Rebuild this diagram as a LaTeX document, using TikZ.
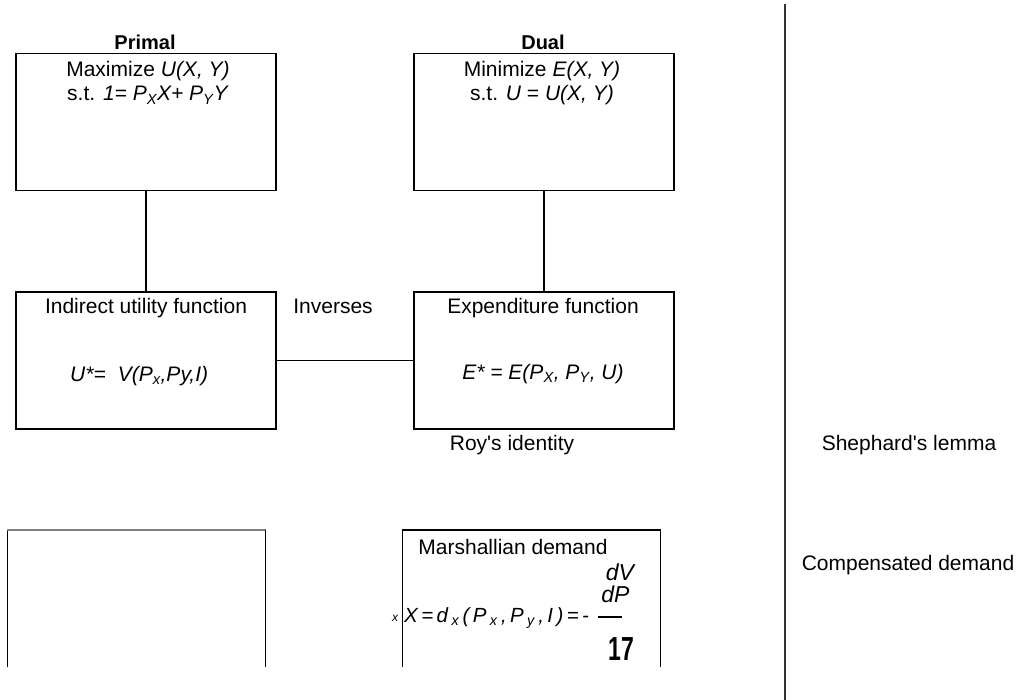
\documentclass[tikz,border=0pt]{standalone}
\usepackage{fontspec}
\setmainfont{Liberation Sans}[Ligatures=TeXOff]
\begin{document}
\begin{tikzpicture}[x=1pt,y=-1pt,
  box/.style={draw=black,line width=1.6pt,minimum width=260pt,minimum height=137pt,inner sep=0pt},
  openbox/.style={minimum width=258pt,minimum height=137pt,inner sep=0pt},
  txt/.style={inner sep=0pt,anchor=base,font=\fontsize{21}{24}\selectfont},
  txtw/.style={inner sep=0pt,anchor=base west,font=\fontsize{21}{24}\selectfont},
  head/.style={inner sep=0pt,anchor=base,font=\fontsize{20}{24}\selectfont\bfseries},
  conn/.style={draw=black,line width=1.6pt}]
\useasboundingbox (0,0) rectangle (1016,700);

% boxes
\node[box] (primal) at (146,122) {};
\node[box] (dual) at (544,122) {};
\node[box] (indirect) at (146,360.5) {};
\node[box] (expend) at (544,360.5) {};
\node[openbox] (blank) at (136.5,598.5) {};
\node[openbox] (marsh) at (531.5,598.5) {};

% open boxes (no bottom side)
\draw[line width=1.4pt] (blank.south west) -- (blank.north west);
\draw[line width=1.4pt,draw=gray] (blank.north west) -- (blank.north east);
\draw[line width=1.4pt] (blank.north east) -- (blank.south east);
\draw[line width=1.4pt] (marsh.south west) |- (marsh.north east) -- (marsh.south east);

% connectors
\draw[conn] (primal.south) -- (indirect.north);
\draw[conn] (dual.south) -- (expend.north);
\draw[conn] (indirect.east) -- (expend.west);

% right divider
\coordinate (divtop) at (785,4);
\coordinate (divbot) at (785,700);
\draw[line width=1.8pt,draw=black!80] (divtop) -- (divbot);

% headings
\node[head] (hprimal) at (145,50) {Primal};
\node[head] (hdual) at (543,50) {Dual};

% primal text
\node[txt] (pmax) at (148,77) {Maximize \textit{U(X, Y)}};
\node[txt] (pst) at (148,101) {s.t. \textit{1= P\textsubscript{X}X+ P\textsubscript{Y}Y}};

% dual text
\node[txt] (dmin) at (542,77) {Minimize \textit{E(X, Y)}};
\node[txt] (dst) at (542,101) {s.t. \textit{U} = \textit{U(X, Y)}};

% indirect
\node[txt] (iuf) at (146,313) {Indirect utility function};
\node[txtw] (ueq) at (70,381) {\textit{U*=\hspace{12pt}V(P\textsubscript{x},Py,I)}};

% expenditure
\node[txt] (ef) at (543,313) {Expenditure function};
\node[txt] (eeq) at (543,379) {\textit{E* = E(P\textsubscript{X}, P\textsubscript{Y}, U)}};

% labels
\node[txt] (inv) at (333,313) {Inverses};
\node[txt] (roy) at (512,450) {Roy's identity};
\node[txt] (shep) at (909,450) {Shephard's lemma};
\node[txt] (comp) at (908,570) {Compensated demand};

% Marshallian
\node[txt] (md) at (513,554) {Marshallian demand};
\node[inner sep=0pt,anchor=base west,font=\fontsize{12}{14}\selectfont\itshape] (presub) at (392,621) {x};
\node[inner sep=0pt,anchor=base west,font=\fontsize{20.5}{24}\selectfont] (mform) at (404,622) {\textit{X\,=\,d\,\textsubscript{x}\,(\,P\,\textsubscript{x}\,,\,P\,\textsubscript{y}\,,\,I\,)\,=\,-}};
\node[inner sep=0pt,anchor=base,font=\fontsize{23}{26}\selectfont\itshape] (dv) at (620,580) {dV};
\node[inner sep=0pt,anchor=base,font=\fontsize{23}{26}\selectfont\itshape] (dp) at (615.5,602) {dP};
\coordinate (barl) at (598,617);
\coordinate (barr) at (622,617);
\draw[line width=1.5pt] (barl) -- (barr);
\node[inner sep=0pt,anchor=base] (seventeen) at (621,660) {\fontsize{23}{26}\selectfont\scalebox{1}[1.45]{\bfseries 17}};
\end{tikzpicture}
\end{document}
